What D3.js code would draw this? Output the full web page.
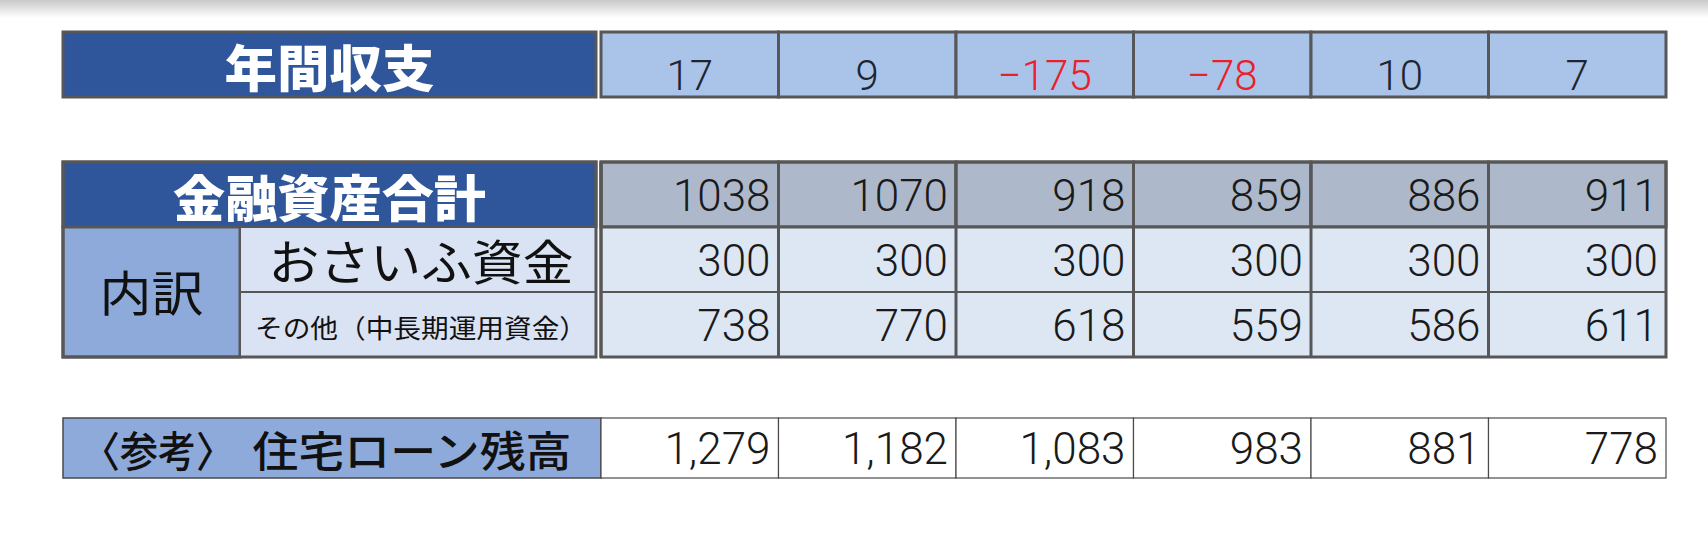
<!DOCTYPE html>
<html>
<head>
<meta charset="utf-8">
<script src="https://cdn.jsdelivr.net/npm/d3@7"></script>
<style>
  body { margin: 0; background: #fff; }
  svg { display: block; }
</style>
</head>
<body>
<script>
// columns have no visible header in the picture, so they are just numbered
const columns = ["1", "2", "3", "4", "5", "6"];

const annualBalance = [17, 9, -175, -78, 10, 7];
const totalAssets = [1038, 1070, 918, 859, 886, 911];
const walletFunds = [300, 300, 300, 300, 300, 300];
const otherFunds = [738, 770, 618, 559, 586, 611];
const mortgageLeft = [1279, 1182, 1083, 983, 881, 778];

const labelBalance = "年間収支";
const labelAssets = "金融資産合計";
const labelBreakdown = "内訳";
const labelWallet = "おさいふ資金";
const labelOther = "その他（中長期運用資金）";
const labelRef = "〈参考〉";
const labelMortgage = "住宅ローン残高";

function draw() {
    const width = 1708,
        height = 533;

    const numFont = "Roboto, 'Liberation Sans', sans-serif";
    const jpFont = "'Noto Sans CJK JP', sans-serif";
    const border = "#575757";

    const svg = d3.select("body")
        .append("svg")
        .attr("width", width)
        .attr("height", height);

    // soft grey shadow along the top edge
    const grad = svg.append("defs").append("linearGradient")
        .attr("id", "topShade")
        .attr("x1", 0).attr("y1", 0).attr("x2", 0).attr("y2", 1);
    grad.append("stop").attr("offset", "0%").attr("stop-color", "#c9c9c9");
    grad.append("stop").attr("offset", "100%").attr("stop-color", "#ffffff");
    svg.append("rect")
        .attr("x", 0).attr("y", 0)
        .attr("width", width).attr("height", 18)
        .attr("fill", "url(#topShade)");

    const x = d3.scaleBand()
        .domain(columns)
        .range([601, 1666]);

    const labelLeft = 63,
        labelRight = 596;

    function label(txt, cx, cy, size, len, opts) {
        opts = opts || {};
        svg.append("text")
            .attr("x", cx)
            .attr("y", cy)
            .attr("text-anchor", "middle")
            .attr("dominant-baseline", "central")
            .attr("font-family", jpFont)
            .attr("font-size", size)
            .attr("font-weight", opts.weight || 400)
            .attr("fill", opts.fill || "#111")
            .attr("textLength", len)
            .attr("lengthAdjust", "spacingAndGlyphs")
            .text(txt);
    }

    const fmtSigned = d => d < 0 ? "\u2212" + Math.abs(d) : String(d);

    // ---------- 年間収支 ----------
    const top1 = 32, bot1 = 97;

    svg.append("rect")
        .attr("x", labelLeft).attr("y", top1)
        .attr("width", labelRight - labelLeft).attr("height", bot1 - top1)
        .attr("fill", "#2f559b")
        .attr("stroke", border).attr("stroke-width", 3);
    label(labelBalance, (labelLeft + labelRight) / 2, (top1 + bot1) / 2, 50, 210,
        { weight: 900, fill: "#fff" });

    svg.selectAll(".balCell")
        .data(annualBalance)
        .enter()
        .append("rect")
        .attr("class", "balCell")
        .attr("x", (d, i) => x(columns[i]))
        .attr("y", top1)
        .attr("width", x.bandwidth())
        .attr("height", bot1 - top1)
        .attr("fill", "#a9c3e9")
        .attr("stroke", border)
        .attr("stroke-width", 3);

    svg.selectAll(".balText")
        .data(annualBalance)
        .enter()
        .append("text")
        .attr("class", "balText")
        .attr("x", (d, i) => x(columns[i]) + x.bandwidth() / 2)
        .attr("y", 90)
        .attr("text-anchor", "middle")
        .attr("font-family", numFont)
        .attr("font-weight", 300)
        .attr("font-size", 42)
        .attr("fill", d => d < 0 ? "#e8202a" : "#1c2530")
        .text(fmtSigned);

    // ---------- 金融資産合計 ----------
    const rows = ["total", "wallet", "other"];
    const y = d3.scaleBand()
        .domain(rows)
        .range([162, 357]);
    const rowData = [totalAssets, walletFunds, otherFunds];
    const rowFill = ["#adb9ca", "#dde7f4", "#dde7f4"];

    svg.append("rect")
        .attr("x", labelLeft).attr("y", y("total"))
        .attr("width", labelRight - labelLeft).attr("height", y.bandwidth())
        .attr("fill", "#2f559b")
        .attr("stroke", border).attr("stroke-width", 3);
    label(labelAssets, (labelLeft + labelRight) / 2, y("total") + y.bandwidth() / 2, 50, 313,
        { weight: 900, fill: "#fff" });

    const subSplit = 240;
    svg.append("rect")
        .attr("x", labelLeft).attr("y", y("wallet"))
        .attr("width", subSplit - labelLeft).attr("height", y.bandwidth() * 2)
        .attr("fill", "#8eaadb")
        .attr("stroke", border).attr("stroke-width", 3);
    label(labelBreakdown, (labelLeft + subSplit) / 2, y("wallet") + y.bandwidth() - 2, 48, 104);

    svg.append("rect")
        .attr("x", subSplit).attr("y", y("wallet"))
        .attr("width", labelRight - subSplit).attr("height", y.bandwidth())
        .attr("fill", "#dae3f3")
        .attr("stroke", border).attr("stroke-width", 2);
    label(labelWallet, (subSplit + labelRight) / 2 + 3, y("wallet") + y.bandwidth() / 2 - 1, 48, 305);

    svg.append("rect")
        .attr("x", subSplit).attr("y", y("other"))
        .attr("width", labelRight - subSplit).attr("height", y.bandwidth())
        .attr("fill", "#dae3f3")
        .attr("stroke", border).attr("stroke-width", 2);
    label(labelOther, (subSplit + labelRight) / 2 + 3, y("other") + y.bandwidth() / 2 + 2, 26, 332);

    // outer frame for the label block
    svg.append("rect")
        .attr("x", labelLeft).attr("y", 162)
        .attr("width", labelRight - labelLeft).attr("height", 195)
        .attr("fill", "none")
        .attr("stroke", border).attr("stroke-width", 3);

    rows.forEach((r, ri) => {
        svg.selectAll(".cell" + r)
            .data(rowData[ri])
            .enter()
            .append("rect")
            .attr("x", (d, i) => x(columns[i]))
            .attr("y", y(r))
            .attr("width", x.bandwidth())
            .attr("height", y.bandwidth())
            .attr("fill", rowFill[ri])
            .attr("stroke", border)
            .attr("stroke-width", ri === 0 ? 3 : 2);
    });

    // thick column dividers + outer frame of the value block
    svg.selectAll(".colLine")
        .data(columns)
        .enter()
        .append("line")
        .attr("x1", d => x(d)).attr("x2", d => x(d))
        .attr("y1", 162).attr("y2", 357)
        .attr("stroke", border).attr("stroke-width", 3);
    svg.append("rect")
        .attr("x", x.range()[0]).attr("y", 162)
        .attr("width", x.range()[1] - x.range()[0]).attr("height", 195)
        .attr("fill", "none")
        .attr("stroke", border).attr("stroke-width", 3);
    svg.append("line")
        .attr("x1", x.range()[0]).attr("x2", x.range()[1])
        .attr("y1", y("wallet")).attr("y2", y("wallet"))
        .attr("stroke", border).attr("stroke-width", 3);

    rows.forEach((r, ri) => {
        svg.selectAll(".num" + r)
            .data(rowData[ri])
            .enter()
            .append("text")
            .attr("x", (d, i) => x(columns[i]) + x.bandwidth() - 8)
            .attr("y", y(r) + y.bandwidth() / 2 + 16)
            .attr("text-anchor", "end")
            .attr("font-family", numFont)
            .attr("font-weight", 300)
            .attr("font-size", 44)
            .attr("fill", "#1a1a1a")
            .text(d => d);
    });

    // ---------- 住宅ローン残高 ----------
    const top3 = 418, bot3 = 478;
    svg.append("rect")
        .attr("x", labelLeft).attr("y", top3)
        .attr("width", 601 - labelLeft).attr("height", bot3 - top3)
        .attr("fill", "#8eaadb")
        .attr("stroke", "#4a4a4a").attr("stroke-width", 1.5);
    label(labelRef, 158, (top3 + bot3) / 2, 42, 152, { weight: 500 });
    label(labelMortgage, 412, (top3 + bot3) / 2, 42, 319, { weight: 500 });

    svg.selectAll(".loanCell")
        .data(mortgageLeft)
        .enter()
        .append("rect")
        .attr("x", (d, i) => x(columns[i]))
        .attr("y", top3)
        .attr("width", x.bandwidth())
        .attr("height", bot3 - top3)
        .attr("fill", "#fff")
        .attr("stroke", "#4a4a4a")
        .attr("stroke-width", 1.2);

    svg.selectAll(".loanText")
        .data(mortgageLeft)
        .enter()
        .append("text")
        .attr("x", (d, i) => x(columns[i]) + x.bandwidth() - 8)
        .attr("y", (top3 + bot3) / 2 + 16)
        .attr("text-anchor", "end")
        .attr("font-family", numFont)
        .attr("font-weight", 300)
        .attr("font-size", 44)
        .attr("fill", "#1a1a1a")
        .text(d => d3.format(",")(d));
}

document.addEventListener('DOMContentLoaded', function (e) {
    draw();
});
</script>
</body>
</html>
